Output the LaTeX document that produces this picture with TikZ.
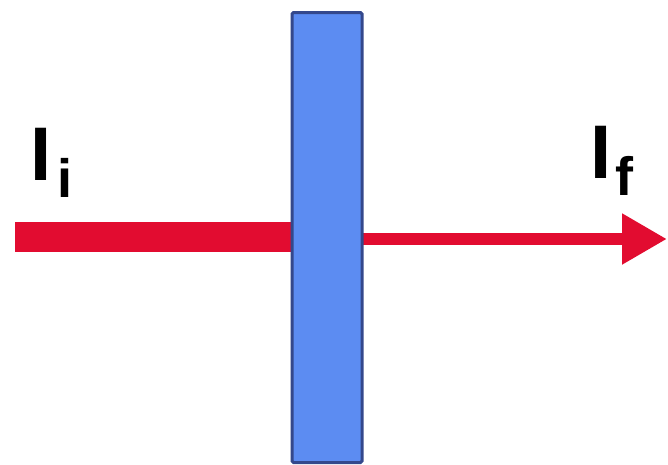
\documentclass[tikz,border=0pt]{standalone}
\usepackage{fontspec}
\setmainfont{Liberation Sans}
\usetikzlibrary{arrows.meta}
\definecolor{beamred}{RGB}{226,12,48}
\definecolor{plateblue}{RGB}{92,140,242}
\definecolor{plateedge}{RGB}{52,72,140}
\tikzset{
  lbl/.style={inner sep=0pt, anchor=base west, font=\fontsize{76}{76}\selectfont\bfseries},
  plate/.style={fill=plateblue, draw=plateedge, line width=3pt, rounded corners=1.5pt},
  beamin/.style={draw=beamred, line width=30pt},
  beamout/.style={draw=beamred, line width=12pt, -{Triangle[length=45pt,width=48pt]}}
}
\newcommand{\subtxt}[1]{\raisebox{-17pt}{\fontsize{54}{54}\selectfont\bfseries #1}}
\begin{document}
\begin{tikzpicture}[x=1pt,y=-1pt]
\useasboundingbox (0,0) rectangle (668,464);
\coordinate (inL) at (15,237);
\coordinate (inR) at (291,237);
\coordinate (outL) at (360,239);
\coordinate (outR) at (667,239);
\draw[beamin] (inL) -- (inR);
\draw[beamout] (outL) -- (outR);
\node[plate, minimum width=70pt, minimum height=450pt, anchor=north west] (p) at (290.5,11) {};
\node[lbl] (ii) at (30,180) {I\hspace{6pt}\subtxt{i}};
\node[lbl] (if) at (590,178) {I\hspace{4pt}\subtxt{f}};
\end{tikzpicture}
\end{document}
